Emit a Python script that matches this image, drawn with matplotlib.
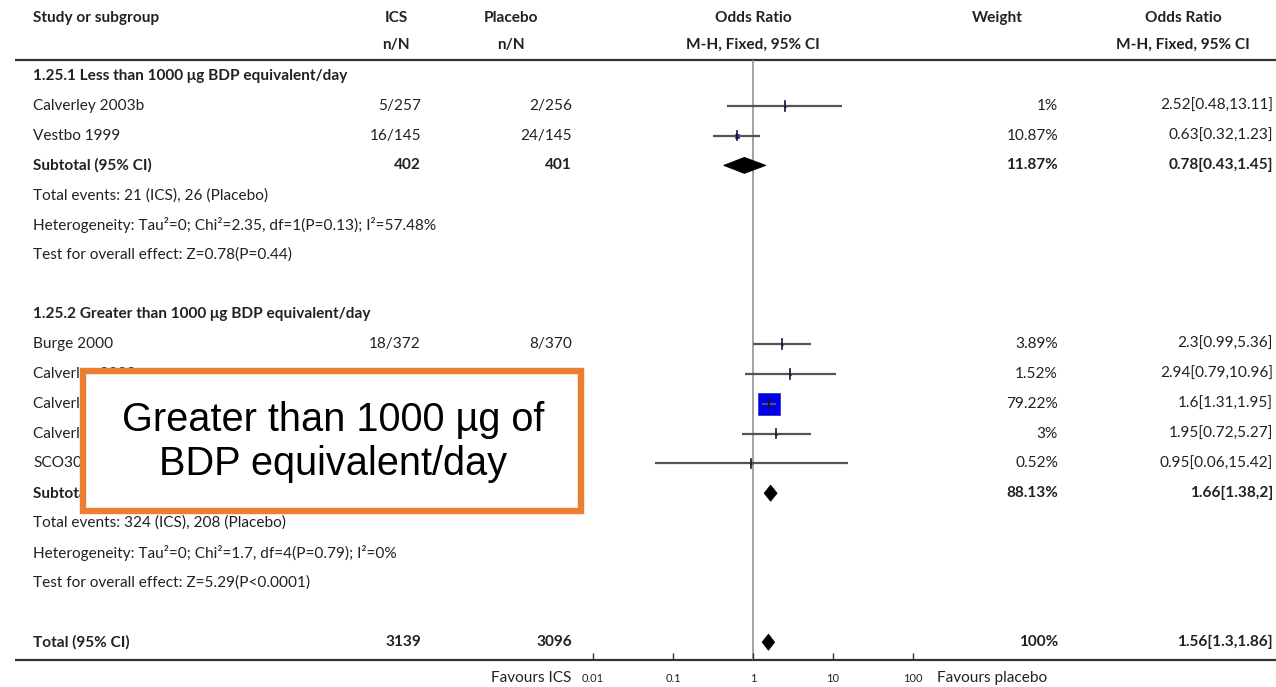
import matplotlib
matplotlib.use("Agg")
import matplotlib.pyplot as plt
from matplotlib.patches import Rectangle, Polygon

# ---------------- data ----------------
g1_title = "1.25.1 Less than 1000 \u03bcg BDP equivalent/day"
g1_studies = ["Calverley 2003b", "Vestbo 1999"]
g1_ics_events = [5, 16]
g1_ics_total = [257, 145]
g1_pla_events = [2, 24]
g1_pla_total = [256, 145]
g1_or = [2.52, 0.63]
g1_lo = [0.48, 0.32]
g1_hi = [13.11, 1.23]
g1_weight = [1, 10.87]
g1_sub = (0.78, 0.43, 1.45, 11.87)
g1_het = "Heterogeneity: Tau\u00b2=0; Chi\u00b2=2.35, df=1(P=0.13); I\u00b2=57.48%"
g1_test = "Test for overall effect: Z=0.78(P=0.44)"

g2_title = "1.25.2 Greater than 1000 \u03bcg BDP equivalent/day"
g2_studies = ["Burge 2000", "Calverley 2003a", "Calverley 2007",
              "Calverley 2003c", "SCO30002"]
g2_ics_events = [18, 11, 284, 10, 1]
g2_ics_total = [372, 374, 1534, 254, 203]
g2_pla_events = [8, 4, 190, 5, 1]
g2_pla_total = [370, 361, 1524, 256, 184]
g2_or = [2.3, 2.94, 1.6, 1.95, 0.95]
g2_lo = [0.99, 0.79, 1.31, 0.72, 0.06]
g2_hi = [5.36, 10.96, 1.95, 5.27, 15.42]
g2_weight = [3.89, 1.52, 79.22, 3, 0.52]
g2_sub = (1.66, 1.38, 2, 88.13)
g2_het = "Heterogeneity: Tau\u00b2=0; Chi\u00b2=1.7, df=4(P=0.79); I\u00b2=0%"
g2_test = "Test for overall effect: Z=5.29(P<0.0001)"

total_or = (1.56, 1.3, 1.86, 100)

axis_ticks = [0.01, 0.1, 1, 10, 100]
axis_labels = ["0.01", "0.1", "1", "10", "100"]
callout = "Greater than 1000 \u00b5g of\nBDP equivalent/day"

# ---------------- layout ----------------
W, H = 1276, 687
ROW0, STEP = 76.0, 29.8
FONT = ["Lato", "DejaVu Sans"]
FS = 11.1
INK = "#222222"

X_NAME, X_ICS, X_PLA = 33, 421, 572
X_WT, X_OR = 1058, 1273
X_FOR_L, X_FOR_R = 593, 913
Y_TOP_RULE, Y_AXIS = 60, 660
BOX = (83, 371, 498, 140)  # x, y, width, height of the callout frame


def ry(k):
    return ROW0 + STEP * k


def under_box(x, y):
    bx, by, bw, bh = BOX
    return bx <= x <= bx + bw and by <= y <= by + bh


fig = plt.figure(figsize=(W / 100, H / 100), dpi=100)
bg = fig.add_axes([0, 0, 1, 1])
bg.set_xlim(0, W)
bg.set_ylim(H, 0)
bg.axis("off")

box_clip = Rectangle((0, 0), BOX[0], H, transform=bg.transData)


def txt(x, y, s, ha="left", bold=False, **kw):
    if ha == "right" and under_box(x - 5, y):
        return None
    t = bg.text(x, y, s, ha=ha, va="center", fontsize=FS, family=FONT,
                fontweight="bold" if bold else "normal", color=INK, **kw)
    if ha == "left" and under_box(BOX[0] + 1, y):
        t.set_clip_path(box_clip)
    return t


def fmt_ci(v):
    return f"{v[0]:g}[{v[1]:g},{v[2]:g}]"


# header
txt(X_NAME, 18, "Study or subgroup", bold=True)
txt(396, 18, "ICS", ha="center", bold=True)
txt(396, 45, "n/N", ha="center", bold=True)
txt(511, 18, "Placebo", ha="center", bold=True)
txt(511, 45, "n/N", ha="center", bold=True)
txt(753, 18, "Odds Ratio", ha="center", bold=True)
txt(753, 45, "M-H, Fixed, 95% CI", ha="center", bold=True)
txt(997, 18, "Weight", ha="center", bold=True)
txt(1183, 18, "Odds Ratio", ha="center", bold=True)
txt(1183, 45, "M-H, Fixed, 95% CI", ha="center", bold=True)

bg.plot([15, W], [Y_TOP_RULE, Y_TOP_RULE], color="#333333", lw=1.6,
        solid_capstyle="butt")
bg.plot([15, W], [Y_AXIS, Y_AXIS], color="#333333", lw=1.6,
        solid_capstyle="butt")

# forest panel on a log scale
fx = fig.add_axes([X_FOR_L / W, (H - Y_AXIS) / H,
                   (X_FOR_R - X_FOR_L) / W, (Y_AXIS - Y_TOP_RULE) / H])
fx.set_xscale("log")
fx.set_xlim(axis_ticks[0], axis_ticks[-1])
fx.set_ylim((Y_AXIS - ROW0) / STEP, (Y_TOP_RULE - ROW0) / STEP)
fx.patch.set_alpha(0)
for s in ("top", "left", "right", "bottom"):
    fx.spines[s].set_visible(False)
fx.set_yticks([])
fx.set_xticks(axis_ticks)
fx.set_xticklabels(axis_labels, family=FONT, fontsize=8, color=INK)
fx.minorticks_off()
fx.tick_params(axis="x", direction="in", length=5, width=1, color="#333333",
               pad=9)
fx.axvline(1, color="#8a8a8a", lw=1.1, zorder=1)

PX_PER_ROW = STEP
SQ_PER_PCT = 0.285  # square side (px) per percent of weight


def study_row(k, est, lo, hi, wt):
    side_px = max(SQ_PER_PCT * wt, 2.2)
    fx.plot([est], [k], marker="s", ms=side_px * 0.72, mfc="#0000ee",
            mec="#1010a0", mew=0.4, zorder=3, linestyle="none")
    fx.plot([lo, hi], [k, k], color="#555555", lw=1.6, zorder=4,
            solid_capstyle="butt")
    fx.plot([est, est], [k - 4.8 / PX_PER_ROW, k + 4.8 / PX_PER_ROW],
            color="#111133", lw=1.2, zorder=5)


def diamond(k, est, lo, hi):
    h = 8.0 / PX_PER_ROW
    fx.add_patch(Polygon([(lo, k), (est, k - h), (hi, k), (est, k + h)],
                         closed=True, facecolor="black", edgecolor="black",
                         lw=0.6, zorder=3))


def group(k0, title, studies, ie, it, pe, pt, ors, los, his, wts, sub,
          het, test):
    txt(X_NAME, ry(k0), title, bold=True)
    for i, name in enumerate(studies):
        k = k0 + 1 + i
        txt(X_NAME, ry(k), name)
        txt(X_ICS, ry(k), f"{ie[i]}/{it[i]}", ha="right")
        txt(X_PLA, ry(k), f"{pe[i]}/{pt[i]}", ha="right")
        txt(X_WT, ry(k), f"{wts[i]:g}%", ha="right")
        txt(X_OR, ry(k), fmt_ci((ors[i], los[i], his[i])), ha="right")
        study_row(k, ors[i], los[i], his[i], wts[i])
    k = k0 + 1 + len(studies)
    txt(X_NAME, ry(k), "Subtotal (95% CI)", bold=True)
    txt(X_ICS, ry(k), f"{sum(it)}", ha="right", bold=True)
    txt(X_PLA, ry(k), f"{sum(pt)}", ha="right", bold=True)
    txt(X_WT, ry(k), f"{sub[3]:g}%", ha="right", bold=True)
    txt(X_OR, ry(k), fmt_ci(sub), ha="right", bold=True)
    diamond(k, *sub[:3])
    txt(X_NAME, ry(k + 1),
        f"Total events: {sum(ie)} (ICS), {sum(pe)} (Placebo)")
    txt(X_NAME, ry(k + 2), het)
    txt(X_NAME, ry(k + 3), test)
    return k + 5


k = group(0, g1_title, g1_studies, g1_ics_events, g1_ics_total,
          g1_pla_events, g1_pla_total, g1_or, g1_lo, g1_hi, g1_weight,
          g1_sub, g1_het, g1_test)
k = group(k, g2_title, g2_studies, g2_ics_events, g2_ics_total,
          g2_pla_events, g2_pla_total, g2_or, g2_lo, g2_hi, g2_weight,
          g2_sub, g2_het, g2_test)

# overall total
kt = k
txt(X_NAME, ry(kt), "Total (95% CI)", bold=True)
txt(X_ICS, ry(kt), f"{sum(g1_ics_total) + sum(g2_ics_total)}", ha="right",
    bold=True)
txt(X_PLA, ry(kt), f"{sum(g1_pla_total) + sum(g2_pla_total)}", ha="right",
    bold=True)
txt(X_WT, ry(kt), f"{total_or[3]:g}%", ha="right", bold=True)
txt(X_OR, ry(kt), fmt_ci(total_or), ha="right", bold=True)
diamond(kt, *total_or[:3])

txt(571, 678, "Favours ICS", ha="right")
txt(937, 678, "Favours placebo")

# callout box over the second subgroup
bg.add_patch(Rectangle(BOX[:2], BOX[2], BOX[3], facecolor="white",
                       edgecolor="#ED7D31", lw=4.6, zorder=10))
bg.text(333, 442, callout, ha="center", va="center", fontsize=28.6,
        family=["Liberation Sans", "DejaVu Sans"], color="black",
        linespacing=1.17, zorder=11)

fig.savefig("out.png", dpi=100)
